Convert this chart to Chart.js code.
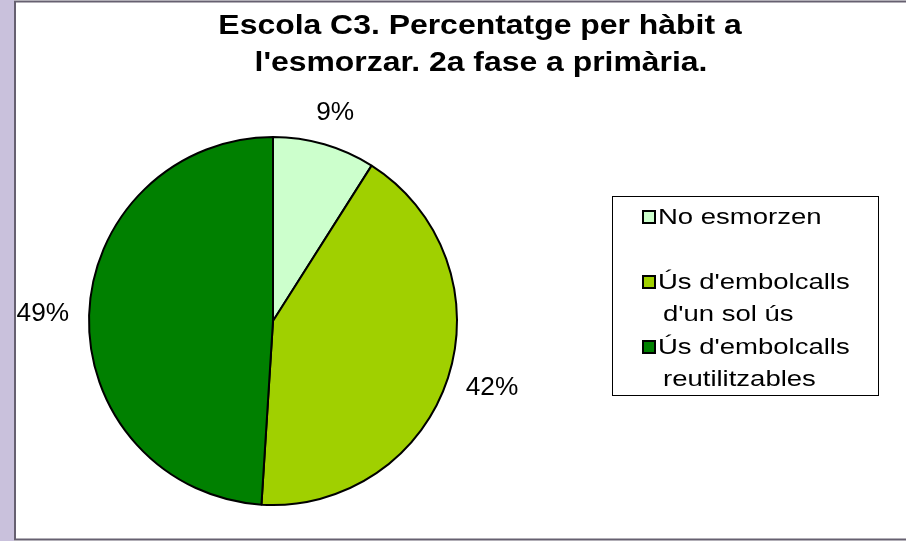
<!DOCTYPE html>
<html>
<head>
<meta charset="utf-8">
<script src="https://cdn.jsdelivr.net/npm/chart.js@4.4.1/dist/chart.umd.min.js"></script>
<style>
  html, body { margin: 0; padding: 0; background: #fff; }
  canvas { display: block; }
</style>
</head>
<body>
<canvas id="pieChart" width="906" height="541"></canvas>
<script>
// dades del gràfic
const titleLines = ["Escola C3. Percentatge per hàbit a", "l'esmorzar. 2a fase a primària."];
const categories = ["No esmorzen", "Ús d'embolcalls d'un sol ús", "Ús d'embolcalls reutilitzables"];
const legendLines = [["No esmorzen"], ["Ús d'embolcalls", "d'un sol ús"], ["Ús d'embolcalls", "reutilitzables"]];
const percentages = [9, 42, 49];
const sliceColors = ['#CCFFCC', '#A0D000', '#008000'];

const FONT = '"Liberation Sans", Arial, sans-serif';

// text una mica eixamplat, com a l'original
function stretchedText(ctx, text, x, y, sx, align) {
    ctx.save();
    ctx.translate(x, y);
    ctx.scale(sx, 1);
    ctx.textAlign = align || 'left';
    ctx.fillText(text, 0, 0);
    ctx.restore();
}

const framePlugin = {
    id: 'frame',
    beforeDraw(chart) {
        const ctx = chart.ctx;
        const w = chart.width, h = chart.height;
        ctx.save();
        ctx.fillStyle = '#fff';
        ctx.fillRect(0, 0, w, h);
        ctx.fillStyle = '#C9C1DC';
        ctx.fillRect(0, 0, 14, h);
        ctx.strokeStyle = '#666070';
        ctx.lineWidth = 2;
        ctx.beginPath();
        ctx.moveTo(w, 1.5);
        ctx.lineTo(15, 1.5);
        ctx.lineTo(15, h - 1.5);
        ctx.lineTo(w, h - 1.5);
        ctx.stroke();

        // títol
        ctx.fillStyle = '#000';
        ctx.font = 'bold 28px ' + FONT;
        ctx.textBaseline = 'alphabetic';
        stretchedText(ctx, titleLines[0], 480, 34, 1.14, 'center');
        stretchedText(ctx, titleLines[1], 481, 71, 1.14, 'center');
        ctx.restore();
    },
    afterDraw(chart) {
        const ctx = chart.ctx;
        const meta = chart.getDatasetMeta(0);
        ctx.save();
        ctx.fillStyle = '#000';
        ctx.textBaseline = 'middle';
        ctx.font = '25px ' + FONT;

        // etiquetes de percentatge fora de cada porció
        meta.data.forEach((arc, i) => {
            const mid = (arc.startAngle + arc.endAngle) / 2;
            const ux = Math.cos(mid), uy = Math.sin(mid);
            const r = arc.outerRadius + 20;
            const label = percentages[i] + '%';
            const tw = ctx.measureText(label).width * 1.05;
            const cx = arc.x + ux * r + ux * tw / 2;
            const cy = arc.y + uy * r + uy * 12;
            stretchedText(ctx, label, cx, cy, 1.05, 'center');
        });

        // llegenda
        ctx.strokeStyle = '#000';
        ctx.lineWidth = 1;
        ctx.strokeRect(612.5, 196.5, 266, 199);
        ctx.font = '22px ' + FONT;
        ctx.textBaseline = 'alphabetic';
        const firstBaselines = [224, 289, 354];
        legendLines.forEach((lines, i) => {
            const base = firstBaselines[i];
            ctx.fillStyle = sliceColors[i];
            ctx.fillRect(643, base - 13, 12, 12);
            ctx.lineWidth = 2;
            ctx.strokeRect(643, base - 13, 12, 12);
            ctx.fillStyle = '#000';
            lines.forEach((t, j) => {
                stretchedText(ctx, t, j === 0 ? 658 : 663, base + j * 32, 1.25);
            });
        });
        ctx.restore();
    }
};

new Chart(document.getElementById('pieChart').getContext('2d'), {
    type: 'pie',
    data: {
        labels: categories,
        datasets: [{
            data: percentages,
            backgroundColor: sliceColors,
            borderColor: '#000',
            borderWidth: 2
        }]
    },
    options: {
        responsive: false,
        animation: false,
        events: [],
        layout: {
            padding: { left: 88, right: 448, top: 136, bottom: 35 }
        },
        plugins: {
            legend: { display: false },
            title: { display: false },
            tooltip: { enabled: false }
        }
    },
    plugins: [framePlugin]
});
</script>
</body>
</html>
